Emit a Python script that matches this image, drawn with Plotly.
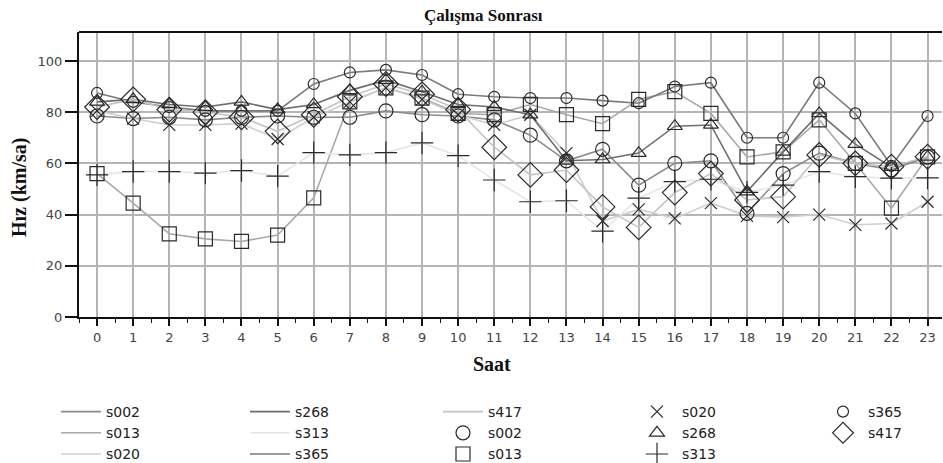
import plotly.graph_objects as go

# Hourly mean speeds (km/h) after the works, per counting station
hours = list(range(24))
hour_labels = [str(h) for h in hours]

s002 = [78.5, 77.5, 78, 77, 78, 78.5, 78, 78, 80.5, 79, 78.5, 77, 71, 61, 65.5, 51.5, 60, 61, 40.5, 56, 64, 60, 57.5, 62.5]
s013 = [56, 44.5, 32.5, 30.5, 29.5, 32, 46.5, 84, 89.5, 85.5, 79.5, 79, 83, 79, 75.5, 85, 88, 79.5, 62.5, 64.5, 77, 60, 42.5, 62.5]
s020 = [80.5, 77.5, 75, 75, 75.5, 69.5, 78, 84, 89.5, 85, 79, 75, 79, 64, 37.5, 42, 38.5, 44.5, 39.5, 39, 40, 36, 36.5, 45]
s268 = [84, 85, 83, 82, 84, 81, 83, 88.5, 92.5, 88, 83, 82, 79, 61, 61.5, 64, 74.5, 75, 49, 64.5, 79.5, 67.5, 58.5, 62.5]
s313 = [55.5, 56.8, 56.8, 56.2, 57.2, 55, 64.2, 63.3, 64.2, 68, 63, 53.5, 45, 45.4, 33.5, 46.4, 52.9, 53.8, 48.7, 51.5, 56.8, 54.8, 54.2, 54.3]
s365 = [87.5, 84, 82, 80.5, 80.5, 80.5, 91, 95.5, 96.5, 94.5, 87, 86, 85.5, 85.5, 84.5, 83.5, 90, 91.5, 70, 70, 91.5, 79.5, 59, 78.5]
s417 = [82, 85, 81, 80, 78, 72.5, 79, 86, 91, 87, 81, 66.3, 55.5, 57.4, 43, 35, 48.6, 56, 45.7, 47, 63.3, 60, 58.7, 62.6]

stations = ["s002", "s013", "s020", "s268", "s313", "s365", "s417"]
values = {"s002": s002, "s013": s013, "s020": s020, "s268": s268,
          "s313": s313, "s365": s365, "s417": s417}

line_colors = {"s002": "#8c8c8c", "s013": "#a8a8a8", "s020": "#cfcfcf", "s268": "#6e6e6e",
               "s313": "#e6e6e6", "s365": "#7a7a7a", "s417": "#c4c4c4"}
marker_style = {
    "s002": dict(symbol="circle-open", size=14),
    "s013": dict(symbol="square-open", size=14),
    "s020": dict(symbol="x-thin-open", size=12),
    "s268": dict(symbol="triangle-up-open", size=13),
    "s313": dict(symbol="cross-thin-open", size=16),
    "s365": dict(symbol="circle-open", size=11),
    "s417": dict(symbol="diamond-open", size=19),
}
line_legend = {"s002": "legend", "s013": "legend", "s020": "legend",
               "s268": "legend2", "s313": "legend2", "s365": "legend2",
               "s417": "legend3"}
marker_legend = {"s002": "legend3", "s013": "legend3",
                 "s020": "legend4", "s268": "legend4", "s313": "legend4",
                 "s365": "legend5", "s417": "legend5"}

fig = go.Figure()

for st in stations:
    fig.add_trace(go.Scatter(
        x=hours, y=values[st], mode="lines", name=st,
        line=dict(color=line_colors[st], width=1.6),
        legend=line_legend[st], hoverinfo="skip"))

for st in stations:
    ms = marker_style[st]
    fig.add_trace(go.Scatter(
        x=hours, y=values[st], mode="markers", name=st,
        marker=dict(symbol=ms["symbol"], size=ms["size"], color="#2a2a2a",
                    line=dict(color="#2a2a2a", width=1.2)),
        legend=marker_legend[st]))

L, R, T, B = 79, 1, 32, 146
W, H = 943, 463
pw, ph = W - L - R, H - T - B


def px_x(px):
    return (px - L) / pw


def px_y(py):
    return (H - B - py) / ph


legend_font = dict(family="DejaVu Sans", size=14, color="#222")


def col_legend(left_px):
    return dict(x=px_x(left_px), y=px_y(396), xanchor="left", yanchor="top",
                bgcolor="rgba(0,0,0,0)", borderwidth=0, font=legend_font,
                tracegroupgap=0, itemwidth=40, orientation="v")


fig.update_layout(
    width=W, height=H,
    margin=dict(l=L, r=R, t=T, b=B, autoexpand=False),
    paper_bgcolor="white", plot_bgcolor="white",
    showlegend=True,
    legend=col_legend(56),
    legend2=col_legend(245),
    legend3=col_legend(438),
    legend4=col_legend(632),
    legend5=col_legend(818),
    xaxis=dict(
        range=[-0.5, 23.4], tickmode="array", tickvals=hours, ticktext=hour_labels,
        showgrid=True, gridcolor="#b5b5b5", gridwidth=1.5,
        showline=True, linecolor="#111", linewidth=2, mirror=False,
        ticks="outside", ticklen=7, tickwidth=1.5, tickcolor="#111",
        minor=dict(tickvals=[h + 0.5 for h in range(-1, 24)], ticks="outside",
                   ticklen=4, tickcolor="#111", tickwidth=1.2, showgrid=False),
        tickfont=dict(family="DejaVu Sans", size=13, color="#444"),
        zeroline=False,
    ),
    yaxis=dict(
        range=[0, 111.3], tickmode="array", tickvals=[0, 20, 40, 60, 80, 100],
        showgrid=True, gridcolor="#b5b5b5", gridwidth=1.5,
        showline=True, linecolor="#111", linewidth=2,
        ticks="outside", ticklen=12, tickwidth=1.5, tickcolor="#111",
        ticklabelstandoff=0,
        tickfont=dict(family="DejaVu Sans", size=13, color="#444"),
        zeroline=False,
    ),
    shapes=[dict(type="line", xref="paper", yref="paper", x0=0, x1=1, y0=1, y1=1,
                 line=dict(color="#111", width=2))],
    annotations=[
        dict(text="<b>Çalışma Sonrası</b>", xref="paper", yref="paper",
             x=px_x(483), y=px_y(15), xanchor="center", yanchor="middle",
             showarrow=False, font=dict(family="Liberation Serif", size=17, color="#111")),
        dict(text="<b>Saat</b>", xref="paper", yref="paper",
             x=px_x(492), y=px_y(364), xanchor="center", yanchor="middle",
             showarrow=False, font=dict(family="Liberation Serif", size=20, color="#111")),
        dict(text="<b>Hız (km/sa)</b>", xref="paper", yref="paper",
             x=px_x(19), y=px_y(187), xanchor="center", yanchor="middle", textangle=-90,
             showarrow=False, font=dict(family="Liberation Serif", size=20, color="#111")),
    ],
)

fig.write_html("out.html")
